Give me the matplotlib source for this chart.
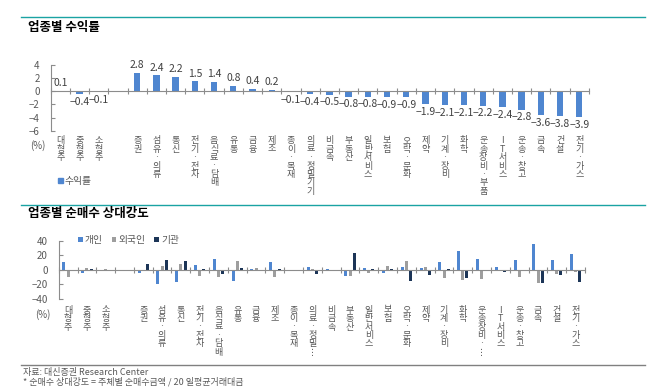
import numpy as np
import matplotlib.pyplot as plt
from matplotlib.lines import Line2D
from matplotlib.patches import Patch

plt.rcParams['font.family'] = ['Noto Sans CJK KR', 'DejaVu Sans']
plt.rcParams['axes.unicode_minus'] = True

# 업종 (빈 칸은 규모별/업종별 구분용)
sectors = ["대형주", "중형주", "소형주", "", "증권", "섬유 · 의류", "통신", "전기 · 전자",
           "음식료 · 담배", "유통", "금융", "제조", "종이 · 목재", "의료 · 정밀기기",
           "비금속", "부동산", "일반서비스", "보험", "오락 · 문화", "제약", "기계 · 장비",
           "화학", "운송장비 · 부품", "IT 서비스", "운송 · 창고", "금속", "건설", "전기 · 가스"]
sectors_short = sectors.copy()
sectors_short[13] = "의료 · 정밀⋮"
sectors_short[22] = "운송장비 · ⋮"

returns = [0.1, -0.4, -0.1, np.nan, 2.8, 2.4, 2.2, 1.5, 1.4, 0.8, 0.4, 0.2, -0.1, -0.4,
           -0.5, -0.8, -0.8, -0.9, -0.9, -1.9, -2.1, -2.1, -2.2, -2.4, -2.8, -3.6, -3.8, -3.9]

# 순매수 상대강도 (%)
individual = [11, -5, -0.5, np.nan, -4, -19, -17, 6.5, 15.5, -15, 0.5, 10.5, 0.3, 4,
              1.5, -8, 3, -5, 4, 2, 11, 25.5, 14.5, 3.5, 13, 35.5, 13, 22]
foreign = [-9.5, 3, 0.5, np.nan, -2, 6, 8.5, -8.5, -10, 12.5, 2, -10, -0.5, 1.5,
           0.3, -9, -4.5, 5.5, 12, 4, -11, -14, -13, 0.3, -10.5, -18, -5.5, -3.5]
institution = [-2, 1, 0.3, np.nan, 8, 13.5, 12.5, 1, -5.5, 2, -2, 0.5, 0.3, -6,
               -1, 24, 1, 1, -15.5, -6.5, 1, -11, -2, -3, -2, -18, -6.5, -17]

blue = "#4F86D0"
gray_bar = "#9E9E9E"
navy = "#1C3557"
txt = "#595959"
axis_c = "#8C8C8C"
teal = "#1AA3A3"


def stack(label):
    return "\n".join(ch for ch in label if ch != " ")


def fmt(v):
    return f"{v:.1f}".replace("-", "\u2212")


def style_axis(ax, ymin, ymax, yticks):
    ax.set_xlim(-0.5, len(sectors) - 0.5)
    ax.set_ylim(ymin, ymax)
    ax.set_yticks(yticks)
    ax.set_yticklabels([str(t).replace("-", "\u2212") for t in yticks])
    for s in ["top", "right"]:
        ax.spines[s].set_visible(False)
    ax.spines["bottom"].set_position(("data", 0))
    ax.spines["bottom"].set_color(axis_c)
    ax.spines["left"].set_color(axis_c)
    ax.set_xticks(np.arange(-0.5, len(sectors), 1))
    ax.set_xticklabels([])
    ax.tick_params(axis="x", direction="inout", length=5, color=axis_c, width=0.8)
    ax.tick_params(axis="y", direction="in", length=3, color=axis_c, labelsize=7,
                   labelcolor=txt, pad=8)


fig = plt.figure(figsize=(6.62, 3.87), dpi=100)
x = np.arange(len(sectors))

# ---- 업종별 수익률
ax1 = fig.add_axes([0.0766, 0.6623, 0.813, 0.1698])
ax1.bar(x, returns, width=0.33, color=blue, zorder=1)
style_axis(ax1, -6, 4, [4, 2, 0, -2, -4, -6])
for i, v in enumerate(returns):
    if np.isnan(v):
        continue
    ax1.annotate(fmt(v), xy=(i, v), xytext=(0, 2 if v >= 0 else -2), textcoords="offset points",
                 ha="center", va="bottom" if v >= 0 else "top", fontsize=7.5, color="#404040")
for i, lab in enumerate(sectors):
    ax1.annotate(stack(lab), xy=(i, 0), xycoords=("data", "axes fraction"), xytext=(0, -4),
                 textcoords="offset points", ha="center", va="top", fontsize=6.5,
                 linespacing=0.92, color=txt)

# ---- 업종별 순매수 상대강도
ax2 = fig.add_axes([0.0887, 0.2282, 0.795, 0.149])
w = 0.16
ax2.bar(x - 0.22, individual, width=w, color=blue, label="개인")
ax2.bar(x, foreign, width=w, color=gray_bar, label="외국인")
ax2.bar(x + 0.22, institution, width=w, color=navy, label="기관")
style_axis(ax2, -40, 40, [40, 20, 0, -20, -40])
for i, lab in enumerate(sectors_short):
    ax2.annotate(stack(lab), xy=(i, 0), xycoords=("data", "axes fraction"), xytext=(0, -5),
                 textcoords="offset points", ha="center", va="top", fontsize=6.5,
                 linespacing=0.92, color=txt)

# titles, rules, legends, notes
fig.add_artist(Line2D([21 / 662, 645 / 662], [1 - 17 / 387, 1 - 17 / 387], color=teal, lw=1))
fig.add_artist(Line2D([21 / 662, 645 / 662], [1 - 204.5 / 387, 1 - 204.5 / 387], color=teal, lw=1))
fig.add_artist(Line2D([21 / 662, 645 / 662], [1 - 364.5 / 387, 1 - 364.5 / 387], color="#808080", lw=1))
fig.text(28 / 662, 1 - 27 / 387, "업종별 수익률", fontsize=9, fontweight="bold", va="center")
fig.text(28 / 662, 1 - 214 / 387, "업종별 순매수 상대강도", fontsize=9, fontweight="bold", va="center")
fig.text(30 / 662, 1 - 146 / 387, "(%)", fontsize=7, color=txt, va="center")
fig.text(35 / 662, 1 - 315 / 387, "(%)", fontsize=7, color=txt, va="center")
fig.text(23 / 662, 1 - 372 / 387, "자료: 대신증권 Research Center", fontsize=6.5, color=txt, va="center")
fig.text(23 / 662, 1 - 382 / 387, "* 순매수 상대강도 = 주체별 순매수금액 / 20 일평균거래대금",
         fontsize=6.5, color=txt, va="center")

fig.legend(handles=[Patch(color=blue, label="수익률")], loc="center left",
           bbox_to_anchor=(58 / 662, 1 - 181 / 387), frameon=False, fontsize=7,
           handlelength=0.5, handleheight=0.5, handletextpad=0.2, labelcolor=txt,
           borderpad=0, borderaxespad=0)
h, l = ax2.get_legend_handles_labels()
fig.legend(h, l, loc="center left", bbox_to_anchor=(78 / 662, 1 - 240 / 387), ncol=3,
           frameon=False, fontsize=7, handlelength=0.5, handleheight=0.5, handletextpad=0.2,
           columnspacing=0.9, labelcolor=txt, borderpad=0, borderaxespad=0)

fig.savefig("out.png", dpi=100)
